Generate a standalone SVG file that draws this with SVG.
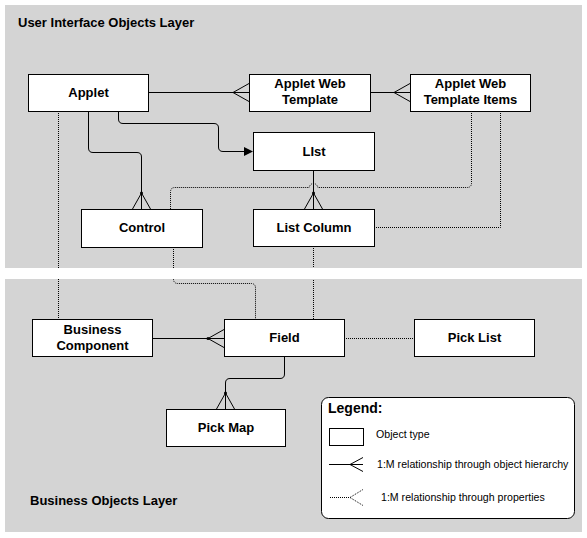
<svg xmlns="http://www.w3.org/2000/svg" width="587" height="538" viewBox="0 0 587 538">
<style>
.panel{fill:#d4d4d4}
.box{fill:#fff;stroke:#000;stroke-width:1}
.lbl{font-family:"Liberation Sans",Arial,sans-serif;font-weight:bold;font-size:13px;fill:#000;text-anchor:middle}
.title{font-family:"Liberation Sans",Arial,sans-serif;font-weight:bold;font-size:13px;fill:#000}
.sm{font-family:"Liberation Sans",Arial,sans-serif;font-size:10.6px;fill:#000}
.solid{fill:none;stroke:#000;stroke-width:1}
.dot{fill:none;stroke:#000;stroke-width:1;stroke-dasharray:1 1}
</style>
<rect width="587" height="538" fill="#fff"/>
<rect class="panel" x="5" y="5" width="577" height="263"/>
<rect class="panel" x="5" y="279" width="577" height="253"/>
<text class="title" x="18" y="27">User Interface Objects Layer</text>
<text class="title" x="30" y="505">Business Objects Layer</text>
<g id="connectors">
<path class="solid" d="M148,92.5 H249 M233,92.5 L249,83.5 M233,92.5 L249,101.5"/>
<path class="solid" d="M370,92.5 H410 M394,92.5 L410,83.5 M394,92.5 L410,101.5"/>
<path class="solid" d="M118.5,111 V119 Q118.5,123.5 123,123.5 H214 Q218.5,123.5 218.5,128 V147 Q218.5,151.5 223,151.5 H245"/>
<polygon points="244,147 253,151.5 244,156" fill="#000"/>
<path class="solid" d="M88.5,111 V148 Q88.5,152.5 93,152.5 H137 Q141.5,152.5 141.5,157 V209 M141.5,193 L132.5,209 M141.5,193 L150.5,209"/>
<circle cx="141.5" cy="193" r="1.5"/>
<path class="solid" d="M313.5,170 V209 M313.5,193 L304.5,209 M313.5,193 L322.5,209"/>
<circle cx="313.5" cy="193" r="1.5"/>
<path class="solid" d="M152,338.5 H224 M208,338.5 L224,329.5 M208,338.5 L224,347.5"/>
<circle cx="208" cy="338.5" r="1.5"/>
<path class="solid" d="M284.5,356 V374 Q284.5,378.5 280,378.5 H230 Q225.5,378.5 225.5,383 V409 M225.5,393 L216.5,409 M225.5,393 L234.5,409"/>
<circle cx="225.5" cy="393" r="1.5"/>
<path class="dot" d="M58.5,111 V319"/>
<path class="dot" d="M471.5,111 V183 Q471.5,187.5 467,187.5 H318 Q316.5,183.5 313.5,183.5 Q310.5,183.5 309,187.5 H175 Q170.5,187.5 170.5,192 V209"/>
<path class="dot" d="M500.5,111 V227.5 H374"/>
<path class="dot" d="M173.5,247 V279 Q173.5,283.5 178,283.5 H251 Q255.5,283.5 255.5,288 V319"/>
<path class="dot" d="M313.5,246 V319"/>
<path class="dot" d="M344,338.5 H414"/>
</g>
<rect x="0" y="268" width="587" height="11" fill="#fff"/>
<g id="applet"><rect class="box" x="28.5" y="74.5" width="120" height="37"/><text class="lbl" x="88.5" y="97">Applet</text></g>
<g id="applet-web-template"><rect class="box" x="249.5" y="74.5" width="121" height="37"/><text class="lbl" x="310" y="88">Applet Web</text><text class="lbl" x="310" y="104">Template</text></g>
<g id="applet-web-template-items"><rect class="box" x="410.5" y="74.5" width="120" height="37"/><text class="lbl" x="470.5" y="88">Applet Web</text><text class="lbl" x="470.5" y="104">Template Items</text></g>
<g id="list"><rect class="box" x="253.5" y="132.5" width="121" height="38"/><text class="lbl" x="314" y="156">LIst</text></g>
<g id="control"><rect class="box" x="81.5" y="209.5" width="121" height="38"/><text class="lbl" x="142" y="232">Control</text></g>
<g id="list-column"><rect class="box" x="253.5" y="209.5" width="121" height="37"/><text class="lbl" x="314" y="232">List Column</text></g>
<g id="business-component"><rect class="box" x="32.5" y="319.5" width="120" height="37"/><text class="lbl" x="92.5" y="334">Business</text><text class="lbl" x="92.5" y="350">Component</text></g>
<g id="field"><rect class="box" x="224.5" y="319.5" width="120" height="37"/><text class="lbl" x="284.5" y="342">Field</text></g>
<g id="pick-list"><rect class="box" x="414.5" y="319.5" width="120" height="37"/><text class="lbl" x="474.5" y="342">Pick List</text></g>
<g id="pick-map"><rect class="box" x="166.5" y="409.5" width="119" height="37"/><text class="lbl" x="226" y="432">Pick Map</text></g>
<g id="legend">
<rect x="321.5" y="397.5" width="253" height="121" rx="7" fill="#fff" stroke="#000" stroke-width="1"/>
<text class="title" x="328" y="413" style="font-size:14px">Legend:</text>
<rect class="box" x="329.5" y="428.5" width="34" height="17"/>
<text class="sm" x="376" y="438">Object type</text>
<path class="solid" d="M329,464.5 H363 M350,464.5 L363,457.5 M350,464.5 L363,471.5"/>
<text class="sm" x="377" y="468">1:M relationship through object hierarchy</text>
<path class="dot" d="M330,497.5 H350 M350,497.5 L363,489.5 M350,497.5 L363,505.5"/>
<text class="sm" x="381" y="501">1:M relationship through properties</text>
</g>
</svg>
